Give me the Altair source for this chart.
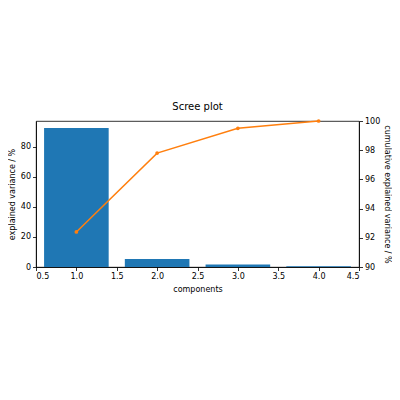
import altair as alt
import pandas as pd

components = [1, 2, 3, 4]
explained = [92.4, 5.4, 1.7, 0.5]
cumulative = [92.4, 97.8, 99.5, 100.0]
x_ticks = [0.5, 1.0, 1.5, 2.0, 2.5, 3.0, 3.5, 4.0, 4.5]
left_ticks = [0, 20, 40, 60, 80]
right_ticks = [90, 92, 94, 96, 98, 100]

df = pd.DataFrame({"component": components, "explained": explained, "cumulative": cumulative})

FONT = "DejaVu Sans"
base = alt.Chart(df)
xscale = alt.Scale(domain=[0.5, 4.5], nice=False, zero=False)
xaxis = alt.Axis(values=x_ticks, format=".1f", title="components", grid=False, titlePadding=5)

bars = base.transform_calculate(
    x0="datum.component - 0.4", x1="datum.component + 0.4"
).mark_bar(color="#1f77b4").encode(
    x=alt.X("x0:Q", scale=xscale, axis=xaxis),
    x2="x1:Q",
    y=alt.Y("explained:Q", scale=alt.Scale(domain=[0, 97.1], nice=False),
            axis=alt.Axis(values=left_ticks, title="explained variance / %", orient="left", grid=False)),
    y2=alt.datum(0),
)

line = base.mark_line(
    color="#ff7f0e", strokeWidth=1.5,
    point=alt.OverlayMarkDef(color="#ff7f0e", size=14, filled=True),
).encode(
    x=alt.X("component:Q", scale=xscale, axis=xaxis),
    y=alt.Y("cumulative:Q", scale=alt.Scale(domain=[90, 100], nice=False, zero=False),
            axis=alt.Axis(values=right_ticks, title="cumulative explained variance / %", orient="right", grid=False, titlePadding=3)),
)

chart = alt.layer(bars, line).resolve_scale(y="independent").properties(
    width=323, height=146,
    title=alt.TitleParams("Scree plot", fontSize=10, font=FONT, fontWeight="normal", color="black", offset=5),
    autosize=alt.AutoSizeParams(type="none"),
    padding={"left": 28, "top": 113, "right": 33, "bottom": 125},
).configure_axis(
    labelFont=FONT, titleFont=FONT, labelFontSize=8, titleFontSize=8,
    labelColor="black", titleColor="black", titleFontWeight="normal",
    domainColor="black", tickColor="black", tickSize=3.5, domainWidth=0.8, tickWidth=0.8,
).configure_view(stroke="black", strokeWidth=0.8)

chart.save("out.html", embed_options={"renderer": "svg", "actions": False})
